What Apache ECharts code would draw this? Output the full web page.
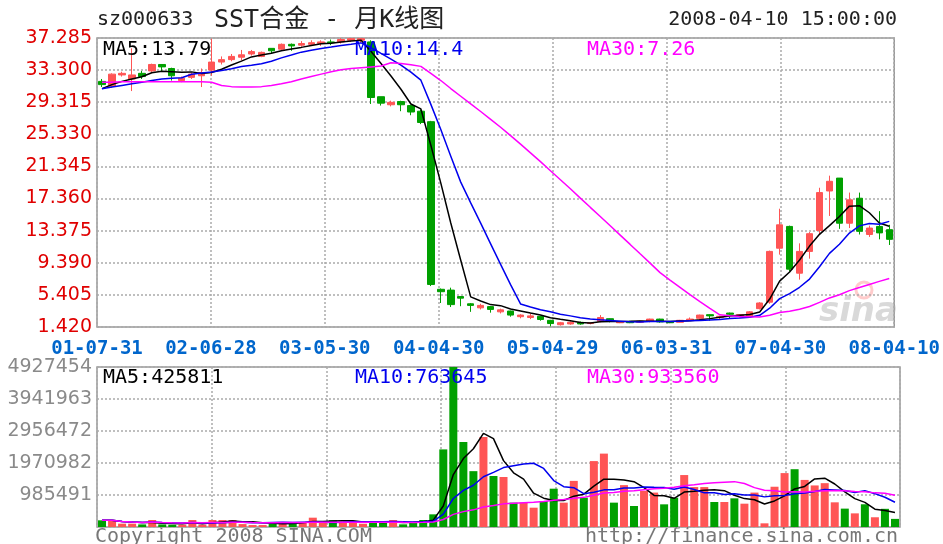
<!DOCTYPE html>
<html><head><meta charset="utf-8">
<script src="https://cdn.jsdelivr.net/npm/echarts@6/dist/echarts.min.js"></script>
<style>html,body{margin:0;padding:0;background:#fff}#c{width:943px;height:544px}</style>
</head><body><div id="c"></div>
<script>
// ---------- data ----------
const categories = [
 '2001-07','2001-08','2001-09','2001-10','2001-11','2001-12',
 '2002-01','2002-02','2002-03','2002-04','2002-05','2002-06','2002-07','2002-08','2002-09','2002-10','2002-11','2002-12',
 '2003-01','2003-02','2003-03','2003-04','2003-05','2003-06','2003-07','2003-08','2003-09','2003-10','2003-11','2003-12',
 '2004-01','2004-02','2004-03','2004-04','2004-05','2004-06','2004-07','2004-08','2004-09','2004-10','2004-11','2004-12',
 '2005-01','2005-02','2005-03','2005-04','2005-05','2005-06','2005-07','2005-08','2005-09','2005-10','2005-11','2005-12',
 '2006-01','2006-02','2006-03','2006-04','2006-05','2006-06','2006-07','2006-08','2006-09','2006-10','2006-11','2006-12',
 '2007-03','2007-04','2007-05','2007-06','2007-07','2007-08','2007-09','2007-10','2007-11','2007-12',
 '2008-01','2008-02','2008-03','2008-04'
];
const openP  = [31.9,31.3,32.7,32.2,32.9,33.2,34.0,33.5,32.0,32.4,32.6,33.3,34.3,34.6,34.9,35.3,35.0,36.0,35.9,36.5,
 36.4,36.5,36.6,36.8,36.8,37.0,37.0,36.8,30.0,29.0,29.4,28.9,28.2,26.9,6.1,6.0,5.2,4.3,3.8,3.95,
 3.3,3.4,2.7,2.6,2.75,2.25,1.7,1.8,2.0,1.85,2.1,2.45,1.95,2.1,2.0,2.1,2.4,2.1,2.0,2.25,
 2.5,2.95,2.6,3.15,2.75,2.8,3.7,4.5,11.2,13.9,8.1,10.8,13.4,18.3,19.9,14.3,17.4,12.9,13.9,13.5];
const closeP = [31.5,32.8,32.9,32.7,32.5,34.0,33.7,32.6,32.3,32.8,33.0,34.3,34.6,35.0,35.2,35.6,35.5,35.7,36.5,36.3,
 36.6,36.7,36.8,36.7,37.1,37.2,37.2,29.9,29.2,29.3,29.0,28.1,26.8,6.7,5.8,4.2,5.0,4.1,4.1,3.6,
 3.55,2.9,2.9,2.8,2.35,1.85,1.95,2.0,1.8,1.95,2.6,2.1,2.05,1.95,2.15,2.4,2.05,1.95,2.25,2.4,
 2.9,2.8,2.75,3.0,2.95,3.3,4.4,10.8,14.1,8.6,10.8,13.0,18.1,19.5,14.3,17.2,13.3,13.7,13.1,12.3];
const lowP   = [31.2,31.1,32.5,30.7,32.2,33.0,33.1,32.0,31.8,32.2,31.2,32.6,34.0,34.4,34.5,35.1,34.9,35.3,35.8,35.7,
 36.2,36.3,36.3,36.4,36.6,36.8,36.7,29.1,28.9,28.8,28.2,27.7,26.6,6.5,4.4,3.9,4.0,3.3,3.6,3.2,
 3.1,2.7,2.5,2.4,2.2,1.5,1.6,1.7,1.7,1.75,2.0,2.0,1.9,1.9,1.95,2.0,1.95,1.9,1.95,2.2,
 2.2,2.2,2.4,2.5,2.6,2.7,3.6,4.3,10.4,8.3,7.3,9.9,12.9,15.2,13.6,13.7,12.9,12.6,12.3,11.6];
const highP  = [32.2,32.9,33.1,36.0,33.2,34.1,34.0,33.6,32.5,33.0,33.5,37.2,35.0,35.3,35.8,35.8,35.6,36.0,36.6,36.6,
 36.9,37.0,37.0,37.1,37.28,37.28,37.285,37.0,30.0,29.5,29.5,29.0,28.4,27.0,6.2,6.3,5.2,4.4,4.3,4.0,
 3.7,3.45,3.0,3.1,2.8,2.3,2.05,2.1,2.1,2.0,2.9,2.5,2.1,2.2,2.2,2.45,2.45,2.15,2.3,2.6,
 2.95,3.0,2.8,3.2,3.0,3.4,4.5,10.9,16.1,14.0,11.8,13.2,18.7,20.2,19.9,18.1,18.1,14.0,15.8,14.1];
// moving-average values before a full window exists (they depend on earlier history)
const ma5Head  = [31.0,31.5,31.9,32.2];
const ma10Head = [31.0,31.2,31.4,31.6,31.8,32.0,32.2,32.3,32.35];
const ma30Head = [31.8,31.8,31.85,31.85,31.85,31.85,31.85,31.85,31.85,31.85,31.85,31.8,31.4,31.25,31.2,
 31.2,31.25,31.4,31.6,31.85,32.2,32.5,32.8,33.1,33.35,33.5,33.6,33.7,33.8];
const volume = [206000,206000,103000,103000,80000,215000,80000,70000,70000,215000,
 70000,215000,215000,215000,90000,60000,60000,144000,144000,144000,
 144000,287000,144000,206000,164000,144000,100000,144000,154000,216000,
 82000,154000,216000,390000,2390000,4927454,2620000,1720000,2770000,1570000,
 1540000,750000,750000,595000,800000,1180000,750000,1420000,903000,2030000,
 2260000,750000,1290000,647000,1110000,1060000,698000,903000,1600000,1230000,
 1230000,770000,770000,883000,718000,1060000,113000,1240000,1660000,1780000,
 1450000,1280000,1350000,760000,566000,420000,700000,300000,560000,250000];
const xTickLabels = ['01-07-31','02-06-28','03-05-30','04-04-30','05-04-29','06-03-31','07-04-30','08-04-10'];
const priceMin = 1.42, priceMax = 37.285, priceStep = 3.985;
const maPriceText = ['MA5:13.79','MA10:14.4','MA30:7.26'];
const maVolText = ['MA5:425811','MA10:763645','MA30:933560'];
const headerText = ['sz000633','SST合金 - 月K线图','2008-04-10 15:00:00'];
const footerText = ['Copyright 2008 SINA.COM','http://finance.sina.com.cn'];

// ---------- helpers ----------
const RED = '#ff5555', GREEN = '#00a000';
const MONO = '"DejaVu Sans Mono", "Liberation Mono", monospace';
function ma(arr, n, head) {
  return arr.map((_, i) => {
    if (head && i < n - 1) return head[i];
    const s = Math.max(0, i - n + 1);
    let sum = 0;
    for (let k = s; k <= i; k++) sum += arr[k];
    return +(sum / (i - s + 1)).toFixed(3);
  });
}
const candles = categories.map((_, i) => [openP[i], closeP[i], lowP[i], highP[i]]);
const volBars = volume.map((v, i) => ({ value: v, itemStyle: { color: closeP[i] >= openP[i] ? RED : GREEN } }));
const volMax = Math.max(...volume);
const dotted = { show: true, lineStyle: { color: '#aaa', type: [2, 2], width: 1.5 } };

const G0 = { left: 97, top: 38, width: 803, height: 289 };
const G1 = { left: 97, top: 367, width: 803, height: 160 };

const chart = echarts.init(document.getElementById('c'));
chart.setOption({
  animation: false,
  backgroundColor: '#fff',
  grid: [
    Object.assign({ show: true, borderColor: '#999', borderWidth: 1.5 }, G0),
    Object.assign({ show: true, borderColor: '#999', borderWidth: 1.5 }, G1)
  ],
  xAxis: [
    { type: 'category', gridIndex: 0, data: categories, boundaryGap: true,
      axisLine: { show: false }, axisTick: { show: false }, axisLabel: { show: false }, splitLine: { show: false } },
    { type: 'category', gridIndex: 0, data: xTickLabels, boundaryGap: false, position: 'bottom',
      axisLine: { show: false }, axisTick: { show: false },
      axisLabel: { interval: 0, color: '#0066cc', fontFamily: MONO, fontWeight: 'bold', fontSize: 19, margin: 13 },
      splitLine: Object.assign({ interval: 0 }, dotted) },
    { type: 'category', gridIndex: 1, data: categories, boundaryGap: true,
      axisLine: { show: false }, axisTick: { show: false }, axisLabel: { show: false }, splitLine: { show: false } },
    { type: 'category', gridIndex: 1, data: xTickLabels, boundaryGap: false, position: 'bottom',
      axisLine: { show: false }, axisTick: { show: false }, axisLabel: { show: false },
      splitLine: Object.assign({ interval: 0 }, dotted) }
  ],
  yAxis: [
    { type: 'value', gridIndex: 0, min: priceMin, max: priceMax, interval: priceStep,
      axisLine: { show: false }, axisTick: { show: false },
      axisLabel: { color: '#e00000', fontFamily: '"DejaVu Sans", sans-serif', fontSize: 19, margin: 5,
        formatter: v => v.toFixed(3) },
      splitLine: dotted },
    { type: 'value', gridIndex: 1, min: 0, max: volMax, interval: volMax / 5,
      axisLine: { show: false }, axisTick: { show: false },
      axisLabel: { color: '#8a8a8a', fontFamily: '"DejaVu Sans", sans-serif', fontSize: 19, margin: 5, showMinLabel: false,
        formatter: v => String(Math.round(v)) },
      splitLine: dotted }
  ],
  series: [
    { type: 'candlestick', xAxisIndex: 0, yAxisIndex: 0, data: candles, barWidth: 7,
      itemStyle: { color: RED, color0: GREEN, borderColor: RED, borderColor0: GREEN, borderWidth: 1 } },
    { type: 'line', xAxisIndex: 0, yAxisIndex: 0, data: ma(closeP, 5, ma5Head), showSymbol: false, lineStyle: { color: '#000', width: 1.5 } },
    { type: 'line', xAxisIndex: 0, yAxisIndex: 0, data: ma(closeP, 10, ma10Head), showSymbol: false, lineStyle: { color: '#0000ee', width: 1.5 } },
    { type: 'line', xAxisIndex: 0, yAxisIndex: 0, data: ma(closeP, 30, ma30Head), showSymbol: false, lineStyle: { color: '#ff00ff', width: 1.5 } },
    { type: 'bar', xAxisIndex: 2, yAxisIndex: 1, data: volBars, barWidth: 8 },
    { type: 'line', xAxisIndex: 2, yAxisIndex: 1, data: ma(volume, 5), showSymbol: false, lineStyle: { color: '#000', width: 1.5 } },
    { type: 'line', xAxisIndex: 2, yAxisIndex: 1, data: ma(volume, 10), showSymbol: false, lineStyle: { color: '#0000ee', width: 1.5 } },
    { type: 'line', xAxisIndex: 2, yAxisIndex: 1, data: ma(volume, 30), showSymbol: false, lineStyle: { color: '#ff00ff', width: 1.5 } }
  ],
  graphic: [
    { type: 'text', x: 97, y: 20, style: { text: headerText[0], fill: '#222', font: '20px ' + MONO, verticalAlign: 'middle' } },
    { type: 'text', x: 214, y: 20, style: { text: headerText[1], fill: '#222', font: '25px ' + MONO + ', "Noto Sans CJK SC"', verticalAlign: 'middle' } },
    { type: 'text', x: 897, y: 20, style: { text: headerText[2], fill: '#222', font: '20px ' + MONO, align: 'right', verticalAlign: 'middle' } },
    { type: 'text', x: 103, y: 50, z: 10, style: { text: maPriceText[0], fill: '#000', font: '20px ' + MONO, verticalAlign: 'middle' } },
    { type: 'text', x: 355, y: 50, z: 10, style: { text: maPriceText[1], fill: '#0000ee', font: '20px ' + MONO, verticalAlign: 'middle' } },
    { type: 'text', x: 587, y: 50, z: 10, style: { text: maPriceText[2], fill: '#ff00ff', font: '20px ' + MONO, verticalAlign: 'middle' } },
    { type: 'text', x: 103, y: 378, z: 10, style: { text: maVolText[0], fill: '#000', font: '20px ' + MONO, verticalAlign: 'middle' } },
    { type: 'text', x: 355, y: 378, z: 10, style: { text: maVolText[1], fill: '#0000ee', font: '20px ' + MONO, verticalAlign: 'middle' } },
    { type: 'text', x: 587, y: 378, z: 10, style: { text: maVolText[2], fill: '#ff00ff', font: '20px ' + MONO, verticalAlign: 'middle' } },
    { type: 'text', x: 95, y: 537, style: { text: footerText[0], fill: '#777', font: '20px ' + MONO, verticalAlign: 'middle' } },
    { type: 'text', x: 898, y: 537, style: { text: footerText[1], fill: '#777', font: '20px ' + MONO, align: 'right', verticalAlign: 'middle' } },
    { type: 'circle', z: 0, shape: { cx: 864, cy: 290, r: 8 }, style: { fill: 'none', stroke: 'rgba(255,110,110,0.35)', lineWidth: 3 } },
    { type: 'text', x: 898, y: 312, z: 0, style: { text: 'sina', fill: 'rgba(170,170,170,0.45)', font: 'italic bold 34px "DejaVu Sans", sans-serif', align: 'right', verticalAlign: 'middle' } }
  ]
});
</script>
</body></html>
